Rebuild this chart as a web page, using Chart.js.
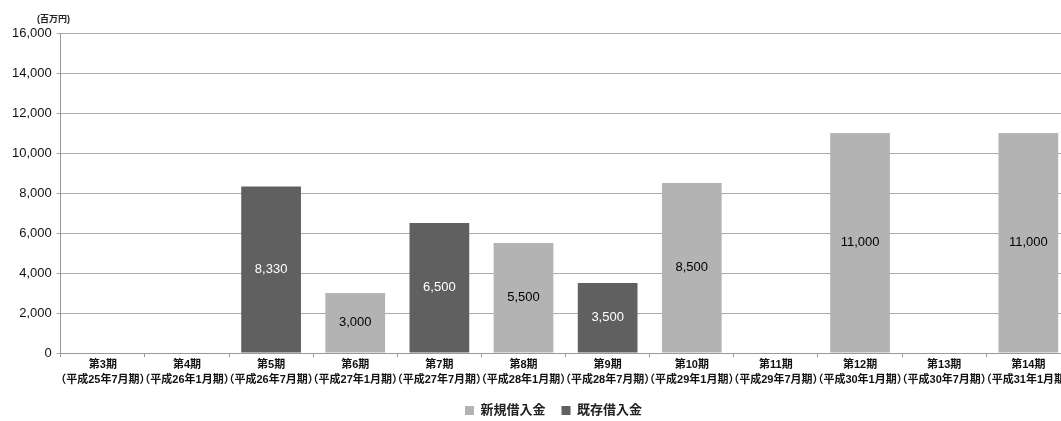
<!DOCTYPE html>
<html>
<head>
<meta charset="utf-8">
<script src="https://cdn.jsdelivr.net/npm/chart.js@4/dist/chart.umd.min.js"></script>
<style>
  html, body { margin: 0; padding: 0; background: #fff; overflow: hidden; }
  #wrap { position: relative; width: 1076px; height: 421px; }
  #unit { position: absolute; left: 37px; top: 12px; font: bold 9px "Liberation Sans", "Noto Sans CJK JP", sans-serif; color: #222; }
</style>
</head>
<body>
<div id="wrap">
  <div id="unit">(百万円)</div>
  <canvas id="chart" width="1076" height="421"></canvas>
</div>
<script>
const periods = ["第3期", "第4期", "第5期", "第6期", "第7期", "第8期", "第9期", "第10期", "第11期", "第12期", "第13期", "第14期"];
const terms = ["（平成25年7月期）", "（平成26年1月期）", "（平成26年7月期）", "（平成27年1月期）", "（平成27年7月期）", "（平成28年1月期）",
  "（平成28年7月期）", "（平成29年1月期）", "（平成29年7月期）", "（平成30年1月期）", "（平成30年7月期）", "（平成31年1月期）"];
// 新規借入金 / 既存借入金 (百万円)
const newLoans = [null, null, null, 3000, null, 5500, null, 8500, null, 11000, null, 11000];
const existingLoans = [null, null, 8330, null, 6500, null, 3500, null, null, null, null, null];
const yTicks = [0, 2000, 4000, 6000, 8000, 10000, 12000, 14000, 16000];

const FONT = '"Liberation Sans", "Noto Sans CJK JP", sans-serif';

// value labels in the middle of each bar
const barLabels = {
  id: "barLabels",
  afterDatasetsDraw(chart) {
    const ctx = chart.ctx;
    ctx.save();
    ctx.font = "13px " + FONT;
    ctx.textAlign = "center";
    ctx.textBaseline = "middle";
    chart.data.datasets.forEach((ds, i) => {
      chart.getDatasetMeta(i).data.forEach((bar, j) => {
        const v = ds.data[j];
        if (v == null) return;
        ctx.fillStyle = ds.labelColor;
        ctx.fillText(v.toLocaleString("en-US"), bar.x, (bar.y + bar.base) / 2);
      });
    });
    ctx.restore();
  }
};

// nudge the legend a bit to the right of the canvas centre
const legendShift = {
  id: "legendShift",
  afterLayout(chart) {
    chart.legend.left += 12;
    chart.legend.right += 12;
  }
};

new Chart(document.getElementById("chart"), {
  type: "bar",
  data: {
    labels: periods.map((p, i) => [p, terms[i]]),
    datasets: [
      { label: "新規借入金", data: newLoans, backgroundColor: "#b3b3b3", labelColor: "#000", barPercentage: 0.71, categoryPercentage: 1 },
      { label: "既存借入金", data: existingLoans, backgroundColor: "#606060", labelColor: "#fff", barPercentage: 0.71, categoryPercentage: 1 }
    ]
  },
  options: {
    responsive: false,
    animation: false,
    layout: { padding: { top: 33, left: 7, right: 0, bottom: -6 } },
    scales: {
      x: {
        stacked: true,
        grid: { display: true, drawOnChartArea: false, offset: true, color: "#999", tickLength: 4 },
        border: { color: "#999" },
        ticks: { color: "#111", font: { family: FONT, size: 11, weight: "bold", lineHeight: 1.36 }, maxRotation: 0, autoSkip: false, padding: 0 },
        afterFit(axis) { axis.height += 1; }
      },
      y: {
        stacked: true,
        min: 0,
        max: 16000,
        afterBuildTicks(axis) { axis.ticks = yTicks.map(v => ({ value: v })); },
        grid: { color: "#aaa", tickLength: 4 },
        border: { color: "#999" },
        ticks: { color: "#111", font: { family: FONT, size: 13 }, padding: 5, callback: v => v.toLocaleString("en-US") }
      }
    },
    plugins: {
      legend: {
        position: "bottom",
        labels: { boxWidth: 9, boxHeight: 9, color: "#222", font: { family: FONT, size: 13, weight: "bold" }, padding: 16 }
      },
      tooltip: { enabled: false }
    }
  },
  plugins: [barLabels, legendShift]
});
</script>
</body>
</html>
